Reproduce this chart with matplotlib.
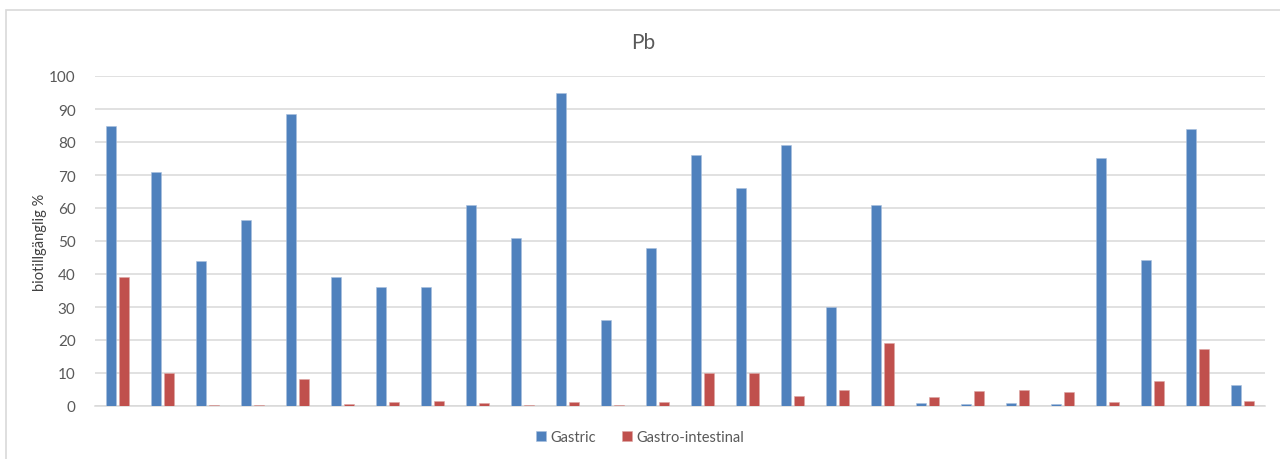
import matplotlib
matplotlib.use("Agg")
import matplotlib.pyplot as plt
import numpy as np
from matplotlib.patches import Rectangle

title = "Pb"
y_label = "biotillgänglig %"
series_names = ["Gastric", "Gastro-intestinal"]
gastric = [85, 71, 44, 56.5, 88.5, 39, 36, 36, 61, 51, 95, 26, 48, 76, 66, 79,
           30, 61, 1.0, 0.5, 1.0, 0.5, 75.3, 44.3, 84, 6.5]
gastro_intestinal = [39, 10.1, 0.3, 0.3, 8.1, 0.7, 1.2, 1.5, 1.0, 0.3, 1.2, 0.3,
                     1.2, 10, 10, 3.0, 4.9, 19, 2.8, 4.6, 4.9, 4.1, 1.2, 7.6,
                     17.2, 1.5]
y_ticks = list(range(0, 101, 10))

plt.rcParams['font.family'] = ['Lato', 'DejaVu Sans']

fig = plt.figure(figsize=(12.8, 4.6), dpi=100)
ax = fig.add_axes([95 / 1280, 53 / 460, 1170 / 1280, 330 / 460])

# outer chart frame
fig.patches.append(Rectangle((6 / 1280, -0.1), 1.2, (460 - 11) / 460 + 0.1,
                             transform=fig.transFigure, fill=False,
                             edgecolor="#d9d9d9", linewidth=1.2, zorder=0))

n = len(gastric)
x = np.arange(n)
width = 0.235
offset = 0.145
blue = "#4F81BD"
red = "#C0504D"
ax.bar(x - offset, gastric, width, color=blue, edgecolor="#a9c0dd",
       linewidth=0.4, label=series_names[0], zorder=3)
ax.bar(x + offset, gastro_intestinal, width, color=red, edgecolor="#dca6a4",
       linewidth=0.4, label=series_names[1], zorder=3)

ax.set_xlim(-0.5, n - 0.5)
ax.set_ylim(0, 100)
ax.set_yticks(y_ticks)
ax.set_xticks([])
ax.grid(axis="y", color="#d9d9d9", linewidth=1.1, zorder=0)
for s in ["top", "right", "left"]:
    ax.spines[s].set_visible(False)
ax.spines["bottom"].set_color("#d9d9d9")
ax.spines["bottom"].set_linewidth(1.1)
ax.tick_params(axis="y", length=0, pad=14, labelsize=11, labelcolor="#595959")

fig.text(643 / 1280, (460 - 43) / 460, title, ha="center", va="center",
         fontsize=15, color="#595959")
fig.text(40 / 1280, (460 - 242) / 460, y_label, rotation=90, ha="center",
         va="center", fontsize=10.5, color="#404040")

leg = fig.legend(loc="center", bbox_to_anchor=(640 / 1280, (460 - 438) / 460),
                 ncol=2, frameon=False, fontsize=10.5, handlelength=0.7,
                 handleheight=0.7, handletextpad=0.3, columnspacing=1.8)
for t in leg.get_texts():
    t.set_color("#595959")

fig.savefig("out.png", dpi=100, facecolor="white")
